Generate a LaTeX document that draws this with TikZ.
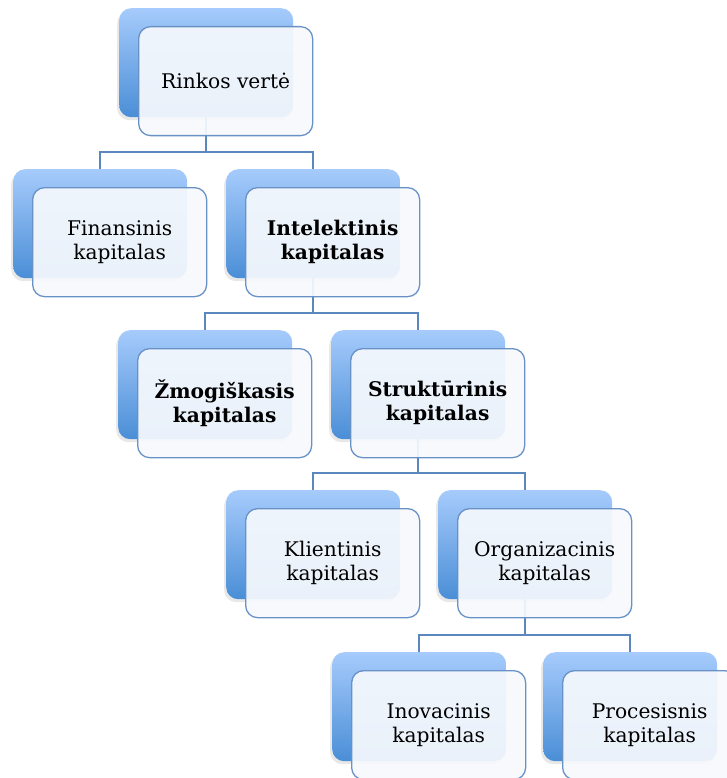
\documentclass[tikz,border=0pt]{standalone}
\usepackage{fontspec}
\setmainfont{DejaVu Serif}
\usetikzlibrary{shadows}
\definecolor{backtop}{HTML}{A6CBFC}
\definecolor{backbot}{HTML}{4A8ED6}
\definecolor{frontborder}{HTML}{6891C6}
\definecolor{conn}{HTML}{5A87BE}
\definecolor{frontfill}{HTML}{F6F9FD}
\tikzset{
  backbox/.style={rectangle, rounded corners=12pt, minimum width=174pt, minimum height=109pt,
    inner sep=0pt, anchor=north west, top color=backtop, bottom color=backbot, draw=none,
    drop shadow={shadow xshift=-2pt, shadow yshift=-3pt, opacity=0.15, fill=black!60}},
  frontbox/.style={rectangle, rounded corners=12pt, minimum width=174pt, minimum height=109pt,
    inner sep=0pt, anchor=north west, fill=frontfill, fill opacity=0.93, text opacity=1,
    draw=frontborder, draw opacity=1, line width=1.3pt, align=center,
    font=\fontsize{20.2}{24}\selectfont},
  connector/.style={draw=conn, line width=1.5pt},
}
\newcommand{\mkunit}[4]{%
  \node[backbox] (b#1) at (#2,#3) {};
}
\newcommand{\mkfront}[4]{%
  \node[frontbox] (f#1) at (#2+19,#3+18) {#4};
}
\begin{document}
\begin{tikzpicture}[x=1pt,y=-1pt]
\useasboundingbox (0,0) rectangle (727,778);
\clip (0,0) rectangle (727,778);
% back boxes
\mkunit{r}{119}{8}{}
\mkunit{fin}{13}{169}{}
\mkunit{int}{226}{169}{}
\mkunit{zm}{118}{330}{}
\mkunit{str}{331}{330}{}
\mkunit{kl}{226}{490}{}
\mkunit{org}{438}{490}{}
\mkunit{ino}{332}{652}{}
\mkunit{pro}{543}{652}{}
% connectors
\draw[connector] (br.south) |- ([yshift=17pt]bfin.north) -- (bfin.north);
\draw[connector] (br.south) |- ([yshift=17pt]bint.north) -- (bint.north);
\draw[connector] (bint.south) |- ([yshift=17pt]bzm.north) -- (bzm.north);
\draw[connector] (bint.south) |- ([yshift=17pt]bstr.north) -- (bstr.north);
\draw[connector] (bstr.south) |- ([yshift=17pt]bkl.north) -- (bkl.north);
\draw[connector] (bstr.south) |- ([yshift=17pt]borg.north) -- (borg.north);
\draw[connector] (borg.south) |- ([yshift=17pt]bino.north) -- (bino.north);
\draw[connector] (borg.south) |- ([yshift=17pt]bpro.north) -- (bpro.north);
% front boxes
\mkfront{r}{119}{8}{Rinkos vertė}
\mkfront{fin}{13}{169}{Finansinis\\kapitalas}
\mkfront{int}{226}{169}{\textbf{Intelektinis}\\\textbf{kapitalas}}
\mkfront{zm}{118}{330}{\textbf{Žmogiškasis}\\\textbf{kapitalas}}
\mkfront{str}{331}{330}{\textbf{Struktūrinis}\\\textbf{kapitalas}}
\mkfront{kl}{226}{490}{Klientinis\\kapitalas}
\mkfront{org}{438}{490}{Organizacinis\\kapitalas}
\mkfront{ino}{332}{652}{Inovacinis\\kapitalas}
\mkfront{pro}{543}{652}{Procesisnis\\kapitalas}
\end{tikzpicture}
\end{document}
